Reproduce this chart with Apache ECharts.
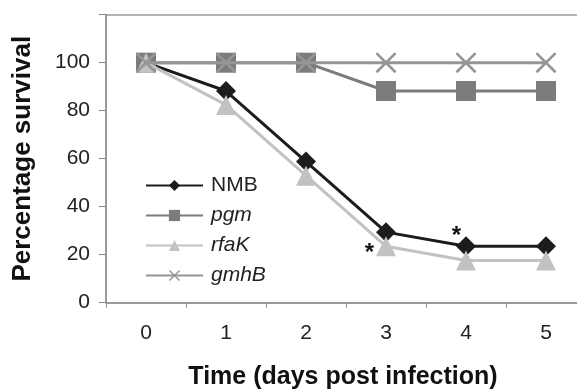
<!DOCTYPE html>
<html><head><meta charset="utf-8">
<script src="https://cdn.jsdelivr.net/npm/echarts@6/dist/echarts.min.js"></script>
<style>html,body{margin:0;padding:0;background:#fff;overflow:hidden}#c{width:577px;height:390px}</style>
</head><body><div id="c"></div>
<script>
const days = [0, 1, 2, 3, 4, 5];
const nmb  = [100, 88.2, 58.8, 29.4, 23.5, 23.5];
const pgm  = [100, 100, 100, 88.2, 88.2, 88.2];
const rfaK = [100, 82.4, 52.9, 23.5, 17.6, 17.6];
const gmhB = [100, 100, 100, 100, 100, 100];
const yTicks = [0, 20, 40, 60, 80, 100];
const asterisks = [{series: 'rfaK', day: 3}, {series: 'NMB', day: 4}];

const FONT = 'Liberation Sans, Arial, sans-serif';
const X_PATH = 'path://M0,0.9L0.9,0L10,9.1L9.1,10Z M9.1,0L10,0.9L0.9,10L0,9.1Z';
// x extent: half a category before day 0; plot is cut by the picture edge after day 5
const X_MIN = -0.5, X_MAX = 5.3875;
const tickBounds = days.map(d => d - 0.5);

function pts(name, vals, pos) {
  return vals.map((v, i) => {
    const hit = asterisks.some(a => a.series === name && a.day === days[i]);
    if (!hit) return [days[i], v];
    return {value: [days[i], v], label: {show: true, formatter: '*', position: pos, align: 'center', verticalAlign: 'middle',
      fontSize: 24, fontWeight: 'bold', color: '#111', fontFamily: FONT}};
  });
}

const chart = echarts.init(document.getElementById('c'), null, {renderer: 'canvas'});
chart.setOption({
  backgroundColor: '#fff',
  animation: false,
  grid: {left: 106, right: 0, top: 14.7, bottom: 87.3, show: false},
  xAxis: [{
    type: 'value', min: X_MIN, max: X_MAX, interval: 1,
    splitLine: {show: false},
    axisLine: {onZero: false, lineStyle: {color: '#7a7a7a', width: 1.5}},
    axisTick: {show: true, length: 5, customValues: tickBounds, lineStyle: {color: '#8a8a8a'}},
    axisLabel: {fontSize: 21, color: '#222', margin: 20, fontFamily: FONT, customValues: days,
      formatter: v => String(v)}
  }, {
    type: 'value', position: 'top', min: X_MIN, max: X_MAX,
    splitLine: {show: false}, axisTick: {show: false}, axisLabel: {show: false},
    axisLine: {show: true, onZero: false, lineStyle: {color: '#9a9a9a', width: 1.5}}
  }],
  yAxis: {
    type: 'value', min: 0, max: 120, interval: 20,
    name: 'Percentage survival', nameLocation: 'middle', nameGap: 70, nameRotate: 90,
    nameTextStyle: {fontSize: 26, fontWeight: 'bold', color: '#111', fontFamily: FONT},
    axisLine: {show: true, onZero: false, lineStyle: {color: '#7a7a7a', width: 1.5}},
    axisTick: {show: true, length: 7, lineStyle: {color: '#8a8a8a'}},
    splitLine: {show: false},
    axisLabel: {fontSize: 21, color: '#222', margin: 16, fontFamily: FONT,
      formatter: v => yTicks.includes(v) ? String(v) : ''}
  },
  legend: {
    orient: 'vertical', left: 145, top: 175, padding: 0, itemWidth: 57, itemHeight: 14, itemGap: 9,
    data: ['NMB', 'pgm', 'rfaK', 'gmhB'],
    formatter: n => n === 'NMB' ? n : '{i|' + n + '}',
    textStyle: {fontSize: 21, color: '#222', fontFamily: FONT, padding: [0, 0, 0, 3],
      rich: {i: {fontSize: 21, fontStyle: 'italic', color: '#222', fontFamily: FONT}}}
  },
  graphic: [{type: 'text', x: 343, y: 377,
    style: {text: 'Time (days post infection)', fontSize: 25, fontWeight: 'bold', fill: '#111', fontFamily: FONT, align: 'center', verticalAlign: 'middle'}}],
  series: [
    {name: 'NMB', type: 'line', data: pts('NMB', nmb, [0.5, 0.5]), symbol: 'diamond', symbolSize: 20,
      lineStyle: {color: '#1c1c1c', width: 3}, itemStyle: {color: '#1c1c1c'}, z: 2},
    {name: 'pgm', type: 'line', data: pts('pgm', pgm), symbol: 'rect', symbolSize: 20,
      lineStyle: {color: '#7c7c7c', width: 3}, itemStyle: {color: '#7c7c7c'}, z: 3},
    {name: 'rfaK', type: 'line', data: pts('rfaK', rfaK, [-6.5, 17.5]), symbol: 'triangle', symbolSize: 20,
      lineStyle: {color: '#c2c2c2', width: 3}, itemStyle: {color: '#c2c2c2'}, z: 4},
    {name: 'gmhB', type: 'line', data: pts('gmhB', gmhB), symbol: X_PATH, symbolSize: 21,
      lineStyle: {color: '#969696', width: 3}, itemStyle: {color: '#969696'}, z: 5}
  ]
});
</script></body></html>
